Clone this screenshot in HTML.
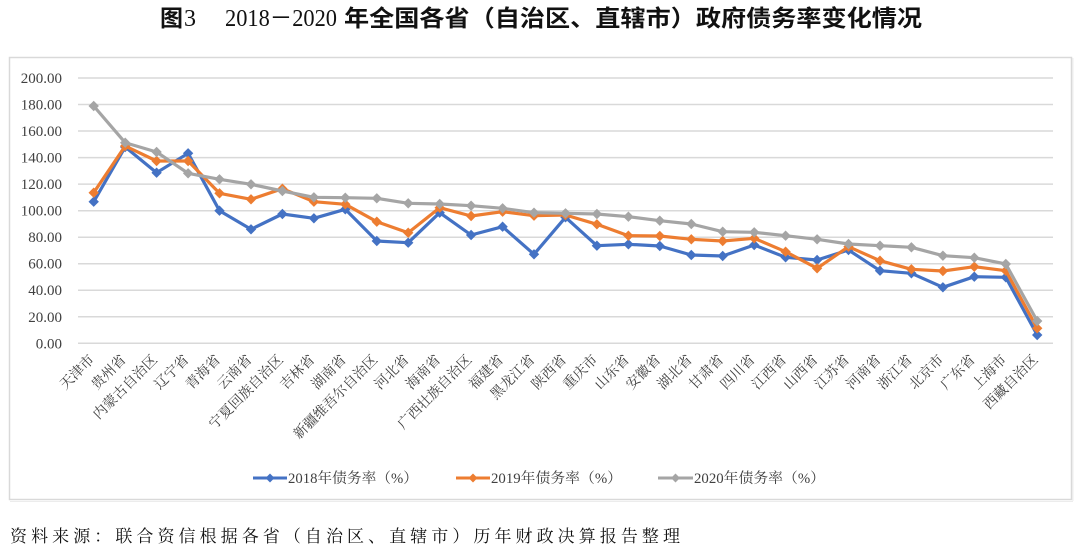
<!DOCTYPE html>
<html>
<head>
<meta charset="utf-8">
<style>
  html,body{margin:0;padding:0;background:#ffffff;}
  svg{display:block;}
</style>
</head>
<body>
<svg width="1080" height="551" viewBox="0 0 1080 551" xmlns="http://www.w3.org/2000/svg">
  <defs>
    <marker id="mb" markerUnits="userSpaceOnUse" markerWidth="12" markerHeight="12" refX="6" refY="6" orient="0">
      <path d="M6,0.8 L11.2,6 L6,11.2 L0.8,6 Z" fill="#4472C4"/>
    </marker>
    <marker id="mo" markerUnits="userSpaceOnUse" markerWidth="12" markerHeight="12" refX="6" refY="6" orient="0">
      <path d="M6,0.8 L11.2,6 L6,11.2 L0.8,6 Z" fill="#ED7D31"/>
    </marker>
    <marker id="mg" markerUnits="userSpaceOnUse" markerWidth="12" markerHeight="12" refX="6" refY="6" orient="0">
      <path d="M6,0.8 L11.2,6 L6,11.2 L0.8,6 Z" fill="#A5A5A5"/>
    </marker>
  </defs>

  <!-- Title -->
  <text x="160" y="26" font-family="'Noto Sans CJK SC', sans-serif" font-weight="bold" font-size="23" fill="#111">图</text>
  <text x="184" y="26" font-family="'Liberation Serif', serif" font-size="24" fill="#111">3</text>
  <text x="225" y="26" font-family="'Liberation Serif', 'Noto Sans CJK SC', serif" font-size="24" fill="#111" textLength="112" lengthAdjust="spacingAndGlyphs">2018－2020</text>
  <text x="344" y="26" font-family="'Noto Sans CJK SC', sans-serif" font-weight="bold" font-size="23" fill="#111" textLength="578" lengthAdjust="spacingAndGlyphs">年全国各省（自治区、直辖市）政府债务率变化情况</text>

  <!-- Chart frame -->
  <rect x="9.5" y="57.5" width="1062" height="442" fill="#fff" stroke="#d9d9d9" stroke-width="1.5"/>
  <line x1="1073" y1="58" x2="1073" y2="501" stroke="#ececec" stroke-width="1"/>
  <line x1="10" y1="501.5" x2="1073" y2="501.5" stroke="#ececec" stroke-width="1"/>

  <!-- Gridlines -->
  <g stroke="#d9d9d9" stroke-width="1.5">
    <line x1="78" y1="78" x2="1053" y2="78"/>
    <line x1="78" y1="104.5" x2="1053" y2="104.5"/>
    <line x1="78" y1="131" x2="1053" y2="131"/>
    <line x1="78" y1="157.6" x2="1053" y2="157.6"/>
    <line x1="78" y1="184.1" x2="1053" y2="184.1"/>
    <line x1="78" y1="210.7" x2="1053" y2="210.7"/>
    <line x1="78" y1="237.2" x2="1053" y2="237.2"/>
    <line x1="78" y1="263.7" x2="1053" y2="263.7"/>
    <line x1="78" y1="290.2" x2="1053" y2="290.2"/>
    <line x1="78" y1="316.8" x2="1053" y2="316.8"/>
    <line x1="78" y1="343.3" x2="1053" y2="343.3"/>
  </g>

  <!-- Y labels -->
  <g font-family="'Liberation Serif', serif" font-size="15" fill="#404040" text-anchor="end">
    <text x="62" y="83">200.00</text>
    <text x="62" y="109.5">180.00</text>
    <text x="62" y="136">160.00</text>
    <text x="62" y="162.6">140.00</text>
    <text x="62" y="189.1">120.00</text>
    <text x="62" y="215.7">100.00</text>
    <text x="62" y="242.2">80.00</text>
    <text x="62" y="268.7">60.00</text>
    <text x="62" y="295.2">40.00</text>
    <text x="62" y="321.8">20.00</text>
    <text x="62" y="348.3">0.00</text>
  </g>

  <!-- Series 2018 -->
  <polyline fill="none" stroke="#4472C4" stroke-width="3.2" stroke-linejoin="round"
    marker-start="url(#mb)" marker-mid="url(#mb)" marker-end="url(#mb)"
    points="93.7,201.7 125.2,147 156.6,172.7 188.1,153.3 219.5,210.7 251,229.3 282.4,214 313.9,218.3 345.3,209.3 376.8,241 408.2,242.7 439.7,212.7 471.1,235 502.6,226.7 534,254.3 565.5,217.3 596.9,245.7 628.4,244.3 659.8,246 691.3,255 722.7,256 754.2,245 785.6,257.3 817.1,260 848.5,250 880,270.7 911.4,273.3 942.9,287.3 974.3,276.7 1005.8,277.3 1037.2,335"/>

  <!-- Series 2019 -->
  <polyline fill="none" stroke="#ED7D31" stroke-width="3.2" stroke-linejoin="round"
    marker-start="url(#mo)" marker-mid="url(#mo)" marker-end="url(#mo)"
    points="93.7,192.7 125.2,146 156.6,161 188.1,161 219.5,193.3 251,199.3 282.4,188.7 313.9,201.7 345.3,204.3 376.8,221.7 408.2,232.7 439.7,207.7 471.1,216 502.6,211.7 534,215.7 565.5,215 596.9,224.3 628.4,235.7 659.8,236 691.3,239.3 722.7,241 754.2,238.3 785.6,251.7 817.1,268.3 848.5,246.7 880,260.7 911.4,269.3 942.9,271 974.3,266.7 1005.8,270.7 1037.2,328.3"/>

  <!-- Series 2020 -->
  <polyline fill="none" stroke="#A5A5A5" stroke-width="3.2" stroke-linejoin="round"
    marker-start="url(#mg)" marker-mid="url(#mg)" marker-end="url(#mg)"
    points="93.7,106 125.2,142.7 156.6,152 188.1,173.3 219.5,179.3 251,184.3 282.4,191 313.9,197.3 345.3,197.7 376.8,198.3 408.2,203.3 439.7,204 471.1,205.7 502.6,208.3 534,212.7 565.5,213.3 596.9,214 628.4,216.7 659.8,220.7 691.3,224 722.7,231.7 754.2,232.3 785.6,235.7 817.1,239.3 848.5,244 880,245.7 911.4,247.3 942.9,255.7 974.3,257.7 1005.8,264 1037.2,321"/>

  <!-- X labels -->
  <g font-family="'Liberation Serif', 'Noto Serif CJK SC', serif" font-size="14" fill="#404040" text-anchor="end" dominant-baseline="central">
    <text transform="translate(92.7,358) rotate(-45)">天津市</text>
    <text transform="translate(124.2,358) rotate(-45)">贵州省</text>
    <text transform="translate(155.6,358) rotate(-45)">内蒙古自治区</text>
    <text transform="translate(187.1,358) rotate(-45)">辽宁省</text>
    <text transform="translate(218.5,358) rotate(-45)">青海省</text>
    <text transform="translate(250,358) rotate(-45)">云南省</text>
    <text transform="translate(281.4,358) rotate(-45)">宁夏回族自治区</text>
    <text transform="translate(312.9,358) rotate(-45)">吉林省</text>
    <text transform="translate(344.3,358) rotate(-45)">湖南省</text>
    <text transform="translate(375.8,358) rotate(-45)">新疆维吾尔自治区</text>
    <text transform="translate(407.2,358) rotate(-45)">河北省</text>
    <text transform="translate(438.7,358) rotate(-45)">海南省</text>
    <text transform="translate(470.1,358) rotate(-45)">广西壮族自治区</text>
    <text transform="translate(501.6,358) rotate(-45)">福建省</text>
    <text transform="translate(533,358) rotate(-45)">黑龙江省</text>
    <text transform="translate(564.5,358) rotate(-45)">陕西省</text>
    <text transform="translate(595.9,358) rotate(-45)">重庆市</text>
    <text transform="translate(627.4,358) rotate(-45)">山东省</text>
    <text transform="translate(658.8,358) rotate(-45)">安徽省</text>
    <text transform="translate(690.3,358) rotate(-45)">湖北省</text>
    <text transform="translate(721.7,358) rotate(-45)">甘肃省</text>
    <text transform="translate(753.2,358) rotate(-45)">四川省</text>
    <text transform="translate(784.6,358) rotate(-45)">江西省</text>
    <text transform="translate(816.1,358) rotate(-45)">山西省</text>
    <text transform="translate(847.5,358) rotate(-45)">江苏省</text>
    <text transform="translate(879,358) rotate(-45)">河南省</text>
    <text transform="translate(910.4,358) rotate(-45)">浙江省</text>
    <text transform="translate(941.9,358) rotate(-45)">北京市</text>
    <text transform="translate(973.3,358) rotate(-45)">广东省</text>
    <text transform="translate(1004.8,358) rotate(-45)">上海市</text>
    <text transform="translate(1036.2,358) rotate(-45)">西藏自治区</text>
  </g>

  <!-- Legend -->
  <line x1="253" y1="478" x2="287" y2="478" stroke="#4472C4" stroke-width="3"/>
  <path d="M270,473.5 L274.5,478 L270,482.5 L265.5,478 Z" fill="#4472C4"/>
  <line x1="456" y1="478" x2="490" y2="478" stroke="#ED7D31" stroke-width="3"/>
  <path d="M473,473.5 L477.5,478 L473,482.5 L468.5,478 Z" fill="#ED7D31"/>
  <line x1="658" y1="478" x2="693" y2="478" stroke="#A5A5A5" stroke-width="3"/>
  <path d="M675.5,473.5 L680,478 L675.5,482.5 L671,478 Z" fill="#A5A5A5"/>
  <g font-family="'Liberation Serif', 'Noto Serif CJK SC', serif" font-size="14.5" fill="#404040">
    <text x="288" y="483" textLength="130" lengthAdjust="spacingAndGlyphs">2018年债务率（%）</text>
    <text x="491" y="483" textLength="131" lengthAdjust="spacingAndGlyphs">2019年债务率（%）</text>
    <text x="694" y="483" textLength="131" lengthAdjust="spacingAndGlyphs">2020年债务率（%）</text>
  </g>

  <!-- Footer -->
  <text x="10" y="542" font-family="'Liberation Serif', 'Noto Serif CJK SC', serif" font-size="17" fill="#111" textLength="670" lengthAdjust="spacing">资料来源：联合资信根据各省（自治区、直辖市）历年财政决算报告整理</text>
</svg>
</body>
</html>
